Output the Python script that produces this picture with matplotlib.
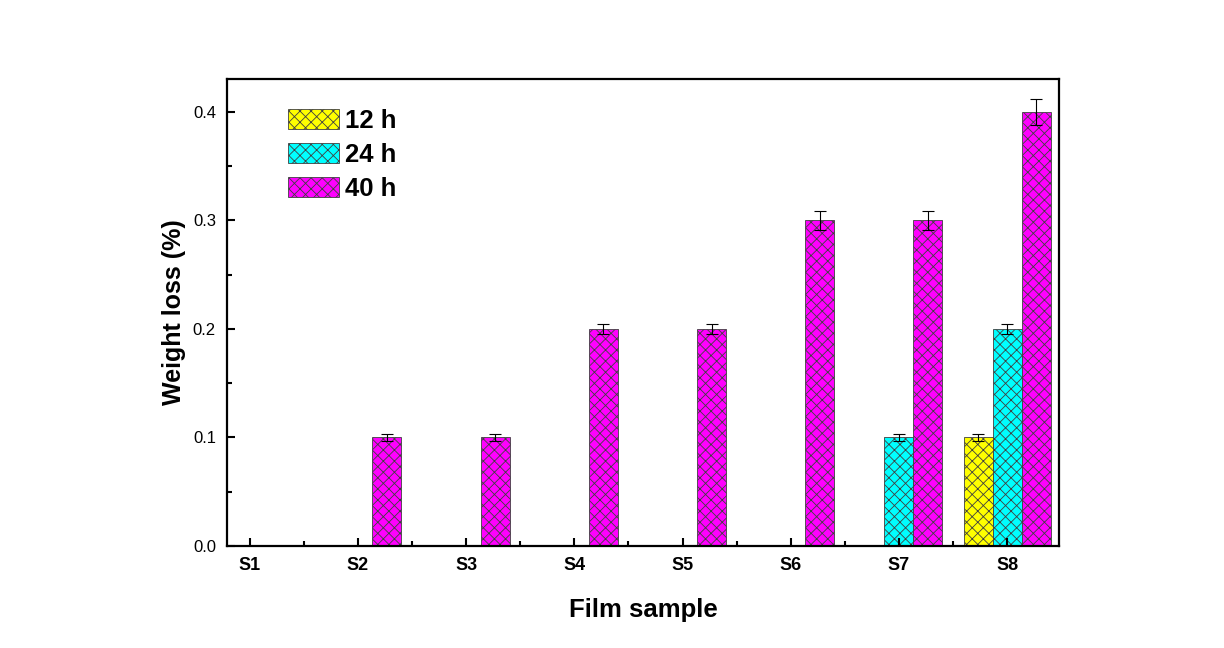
import numpy as np
import matplotlib
matplotlib.use("Agg")
import matplotlib.pyplot as plt

plt.rcParams['font.family'] = ['Liberation Sans', 'DejaVu Sans']
plt.rcParams['hatch.linewidth'] = 0.6

samples = ["S1", "S2", "S3", "S4", "S5", "S6", "S7", "S8"]
loss_12h = [0, 0, 0, 0, 0, 0, 0, 0.1]
loss_24h = [0, 0, 0, 0, 0, 0, 0.1, 0.2]
loss_40h = [0, 0.1, 0.1, 0.2, 0.2, 0.3, 0.3, 0.4]
err_12h = [0, 0, 0, 0, 0, 0, 0, 0.003]
err_24h = [0, 0, 0, 0, 0, 0, 0.003, 0.005]
err_40h = [0, 0.003, 0.003, 0.005, 0.005, 0.009, 0.009, 0.012]

series = [
    ("12 h", loss_12h, err_12h, "#ffff00", -1),
    ("24 h", loss_24h, err_24h, "#00ffff", 0),
    ("40 h", loss_40h, err_40h, "#ff00ff", 1),
]

fig = plt.figure(figsize=(12.24, 6.48), dpi=100)
ax = fig.add_axes([0.1855, 0.1574, 0.6797, 0.7207])

x = np.arange(1, len(samples) + 1)
width = 0.268
for label, vals, errs, color, off in series:
    vals = np.array(vals)
    errs = np.array(errs)
    xs = x + off * width
    ax.bar(xs, vals, width, color=color, edgecolor="#404040", linewidth=0.6,
           hatch="xxx", label=label)
    mask = vals > 0
    ax.errorbar(xs[mask], vals[mask], yerr=errs[mask], fmt="none",
                ecolor="black", elinewidth=0.8, capsize=4, capthick=0.8)

ax.set_xlim(0.79, 8.48)
ax.set_ylim(0, 0.4304)
ax.set_xticks(x)
ax.set_xticklabels(samples, fontweight="bold", fontsize=13)
ax.set_xticks(x[:-1] + 0.5, minor=True)
ax.set_yticks([0.0, 0.1, 0.2, 0.3, 0.4])
ax.set_yticklabels(["0.0", "0.1", "0.2", "0.3", "0.4"], fontsize=12)
ax.set_yticks(np.arange(0.05, 0.43, 0.1), minor=True)
ax.tick_params(axis="both", which="major", direction="in", length=6, width=1.5, pad=8)
ax.tick_params(axis="both", which="minor", direction="in", length=3.5, width=1.5)
for s in ax.spines.values():
    s.set_linewidth(1.6)

ax.set_xlabel("Film sample", fontsize=18.5, fontweight="bold", labelpad=17)
ax.set_ylabel("Weight loss (%)", fontsize=18, fontweight="bold", labelpad=5)

leg = ax.legend(loc="upper left", bbox_to_anchor=(0.045, 0.985), frameon=False,
                prop={"weight": "bold", "size": 18.5}, handlelength=2.0,
                handleheight=0.8, labelspacing=0.38, handletextpad=0.25)

fig.savefig("out.png", dpi=100, facecolor="white")
